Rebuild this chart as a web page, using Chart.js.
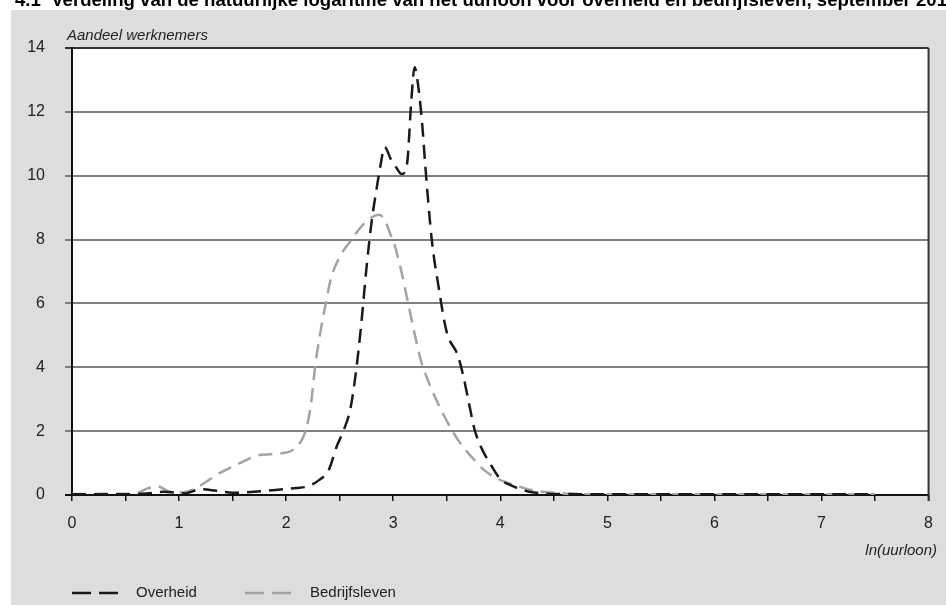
<!DOCTYPE html>
<html>
<head>
<meta charset="utf-8">
<script src="https://cdn.jsdelivr.net/npm/chart.js@4/dist/chart.umd.min.js"></script>
<style>
  html, body { margin: 0; padding: 0; background: #ffffff; }
  #wrap { width: 946px; height: 605px; position: relative; }
</style>
</head>
<body>
<div id="wrap"><canvas id="c" width="946" height="605"></canvas></div>
<script>
const titleText = "4.1  Verdeling van de natuurlijke logaritme van het uurloon voor overheid en bedrijfsleven, september 2010";
const yAxisTitle = "Aandeel werknemers";
const xAxisTitle = "ln(uurloon)";
const seriesNames = ["Overheid", "Bedrijfsleven"];

const overheidX = [0, 0.5, 0.7, 0.85, 0.95, 1.05, 1.2, 1.35, 1.5, 1.7, 1.9, 2.1, 2.2, 2.3, 2.4, 2.47, 2.54, 2.6, 2.65, 2.7, 2.75, 2.8, 2.85, 2.88, 2.92, 2.98, 3.03, 3.08, 3.13, 3.17, 3.2, 3.23, 3.27, 3.3, 3.36, 3.42, 3.5, 3.6, 3.65, 3.7, 3.76, 3.82, 3.92, 4.0, 4.1, 4.25, 4.4, 4.6, 5, 6, 7, 7.5];
const overheidY = [0.02, 0.02, 0.05, 0.1, 0.08, 0.05, 0.18, 0.13, 0.07, 0.1, 0.16, 0.22, 0.27, 0.45, 0.8, 1.5, 2.05, 2.7, 3.8, 5.3, 7.1, 8.6, 9.7, 10.3, 10.9, 10.5, 10.25, 10.05, 10.4, 12.4, 13.4, 12.9, 11.65, 10.3, 8.0, 6.6, 5.1, 4.4, 3.8, 3.0, 2.05, 1.5, 0.9, 0.5, 0.3, 0.12, 0.05, 0.03, 0.02, 0.02, 0.02, 0.02];

const bedrijfX = [0, 0.5, 0.6, 0.7, 0.8, 0.9, 1.0, 1.07, 1.2, 1.35, 1.55, 1.75, 1.95, 2.08, 2.15, 2.19, 2.23, 2.27, 2.32, 2.37, 2.42, 2.5, 2.6, 2.7, 2.8, 2.87, 2.93, 2.97, 3.02, 3.08, 3.14, 3.2, 3.26, 3.36, 3.48, 3.6, 3.73, 3.85, 3.98, 4.1, 4.3, 4.5, 4.7, 5, 6, 7, 7.5];
const bedrijfY = [0.03, 0.04, 0.05, 0.2, 0.27, 0.12, 0.08, 0.1, 0.3, 0.63, 0.97, 1.25, 1.3, 1.45, 1.75, 2.1, 2.8, 4.0, 5.1, 6.0, 6.8, 7.45, 7.95, 8.4, 8.7, 8.78, 8.55, 8.2, 7.75, 6.95, 6.0, 5.05, 4.2, 3.3, 2.45, 1.75, 1.2, 0.78, 0.5, 0.35, 0.15, 0.07, 0.03, 0.02, 0.02, 0.02, 0.02];

const xMin = 0, xMax = 8, xStep = 0.5;
const yMin = 0, yMax = 14, yStep = 2;

const toPts = (xs, ys) => xs.map((x, i) => ({ x: x, y: ys[i] }));

const FONT = "'Liberation Sans', Arial, sans-serif";
const BLACK = '#1a1a1a';
const GREY = '#a3a3a3';

const decor = {
  id: 'decor',
  beforeDraw(chart) {
    const ctx = chart.ctx;
    const a = chart.chartArea;
    ctx.save();
    ctx.fillStyle = '#ffffff';
    ctx.fillRect(0, 0, chart.width, chart.height);
    ctx.fillStyle = '#dcdddf';
    ctx.fillRect(11, 10, chart.width - 11, chart.height - 10);
    ctx.fillStyle = '#ffffff';
    ctx.fillRect(a.left, a.top, a.right - a.left, a.bottom - a.top);
    ctx.restore();
  },
  afterDraw(chart) {
    const ctx = chart.ctx;
    const a = chart.chartArea;
    ctx.save();
    // title (clipped at top, as in the reference)
    ctx.fillStyle = '#000';
    ctx.font = "bold 18.6px " + FONT;
    ctx.textBaseline = 'alphabetic';
    ctx.textAlign = 'left';
    ctx.fillText(titleText, 15, 6);
    // right border
    ctx.strokeStyle = '#333';
    ctx.lineWidth = 2;
    ctx.beginPath();
    ctx.moveTo(a.right, a.top);
    ctx.lineTo(a.right, a.bottom + 6);
    ctx.stroke();
    // axis titles
    ctx.fillStyle = '#222';
    ctx.font = "italic 15px " + FONT;
    ctx.textBaseline = 'middle';
    ctx.fillText(yAxisTitle, 67, 36);
    ctx.textAlign = 'right';
    ctx.fillText(xAxisTitle, 937, 551);
    // legend
    const ds = chart.data.datasets;
    const items = [{ x0: 72, x1: 118, tx: 136 }, { x0: 245, x1: 293, tx: 310 }];
    const ly = 593;
    ctx.textAlign = 'left';
    ctx.font = "15px " + FONT;
    items.forEach((it, i) => {
      ctx.strokeStyle = ds[i].borderColor;
      ctx.lineWidth = 2.5;
      ctx.setLineDash([19, 8]);
      ctx.beginPath();
      ctx.moveTo(it.x0, ly);
      ctx.lineTo(it.x1, ly);
      ctx.stroke();
      ctx.setLineDash([]);
      ctx.fillStyle = '#222';
      ctx.fillText(ds[i].label, it.tx, ly);
    });
    ctx.restore();
  }
};

new Chart(document.getElementById('c'), {
  type: 'line',
  data: {
    datasets: [
      {
        label: seriesNames[0],
        data: toPts(overheidX, overheidY),
        borderColor: BLACK,
        borderWidth: 2.5,
        borderDash: [14, 8],
        pointRadius: 0,
        fill: false,
        cubicInterpolationMode: 'monotone',
        order: 1
      },
      {
        label: seriesNames[1],
        data: toPts(bedrijfX, bedrijfY),
        borderColor: GREY,
        borderWidth: 2.5,
        borderDash: [14, 8],
        pointRadius: 0,
        fill: false,
        cubicInterpolationMode: 'monotone',
        order: 2
      }
    ]
  },
  options: {
    responsive: false,
    animation: false,
    devicePixelRatio: 1,
    layout: { padding: { left: 0, right: 13, top: 48, bottom: 0 } },
    plugins: { legend: { display: false }, title: { display: false }, tooltip: { enabled: false } },
    scales: {
      x: {
        type: 'linear',
        min: xMin, max: xMax,
        afterFit(s) { s.height = 110; },
        border: { display: true, color: '#111', width: 2 },
        grid: { drawOnChartArea: false, drawTicks: true, tickLength: 6, color: '#111', lineWidth: 1.5 },
        ticks: {
          stepSize: xStep,
          padding: 13,
          color: '#222',
          font: { family: FONT, size: 16 },
          maxRotation: 0,
          autoSkip: false,
          callback: (v) => Number.isInteger(v) ? String(v) : ''
        }
      },
      y: {
        min: yMin, max: yMax,
        afterFit(s) { s.width = 72; },
        border: { display: true, color: '#111', width: 2 },
        grid: {
          drawOnChartArea: true,
          drawTicks: true,
          tickLength: 7,
          lineWidth: 2,
          color: (c) => c.tick && c.tick.value === yMax ? '#333' : (c.tick && c.tick.value === 0 ? '#111' : '#808080')
        },
        ticks: {
          stepSize: yStep,
          padding: 20,
          color: '#222',
          font: { family: FONT, size: 16 }
        }
      }
    }
  },
  plugins: [decor]
});
</script>
</body>
</html>
